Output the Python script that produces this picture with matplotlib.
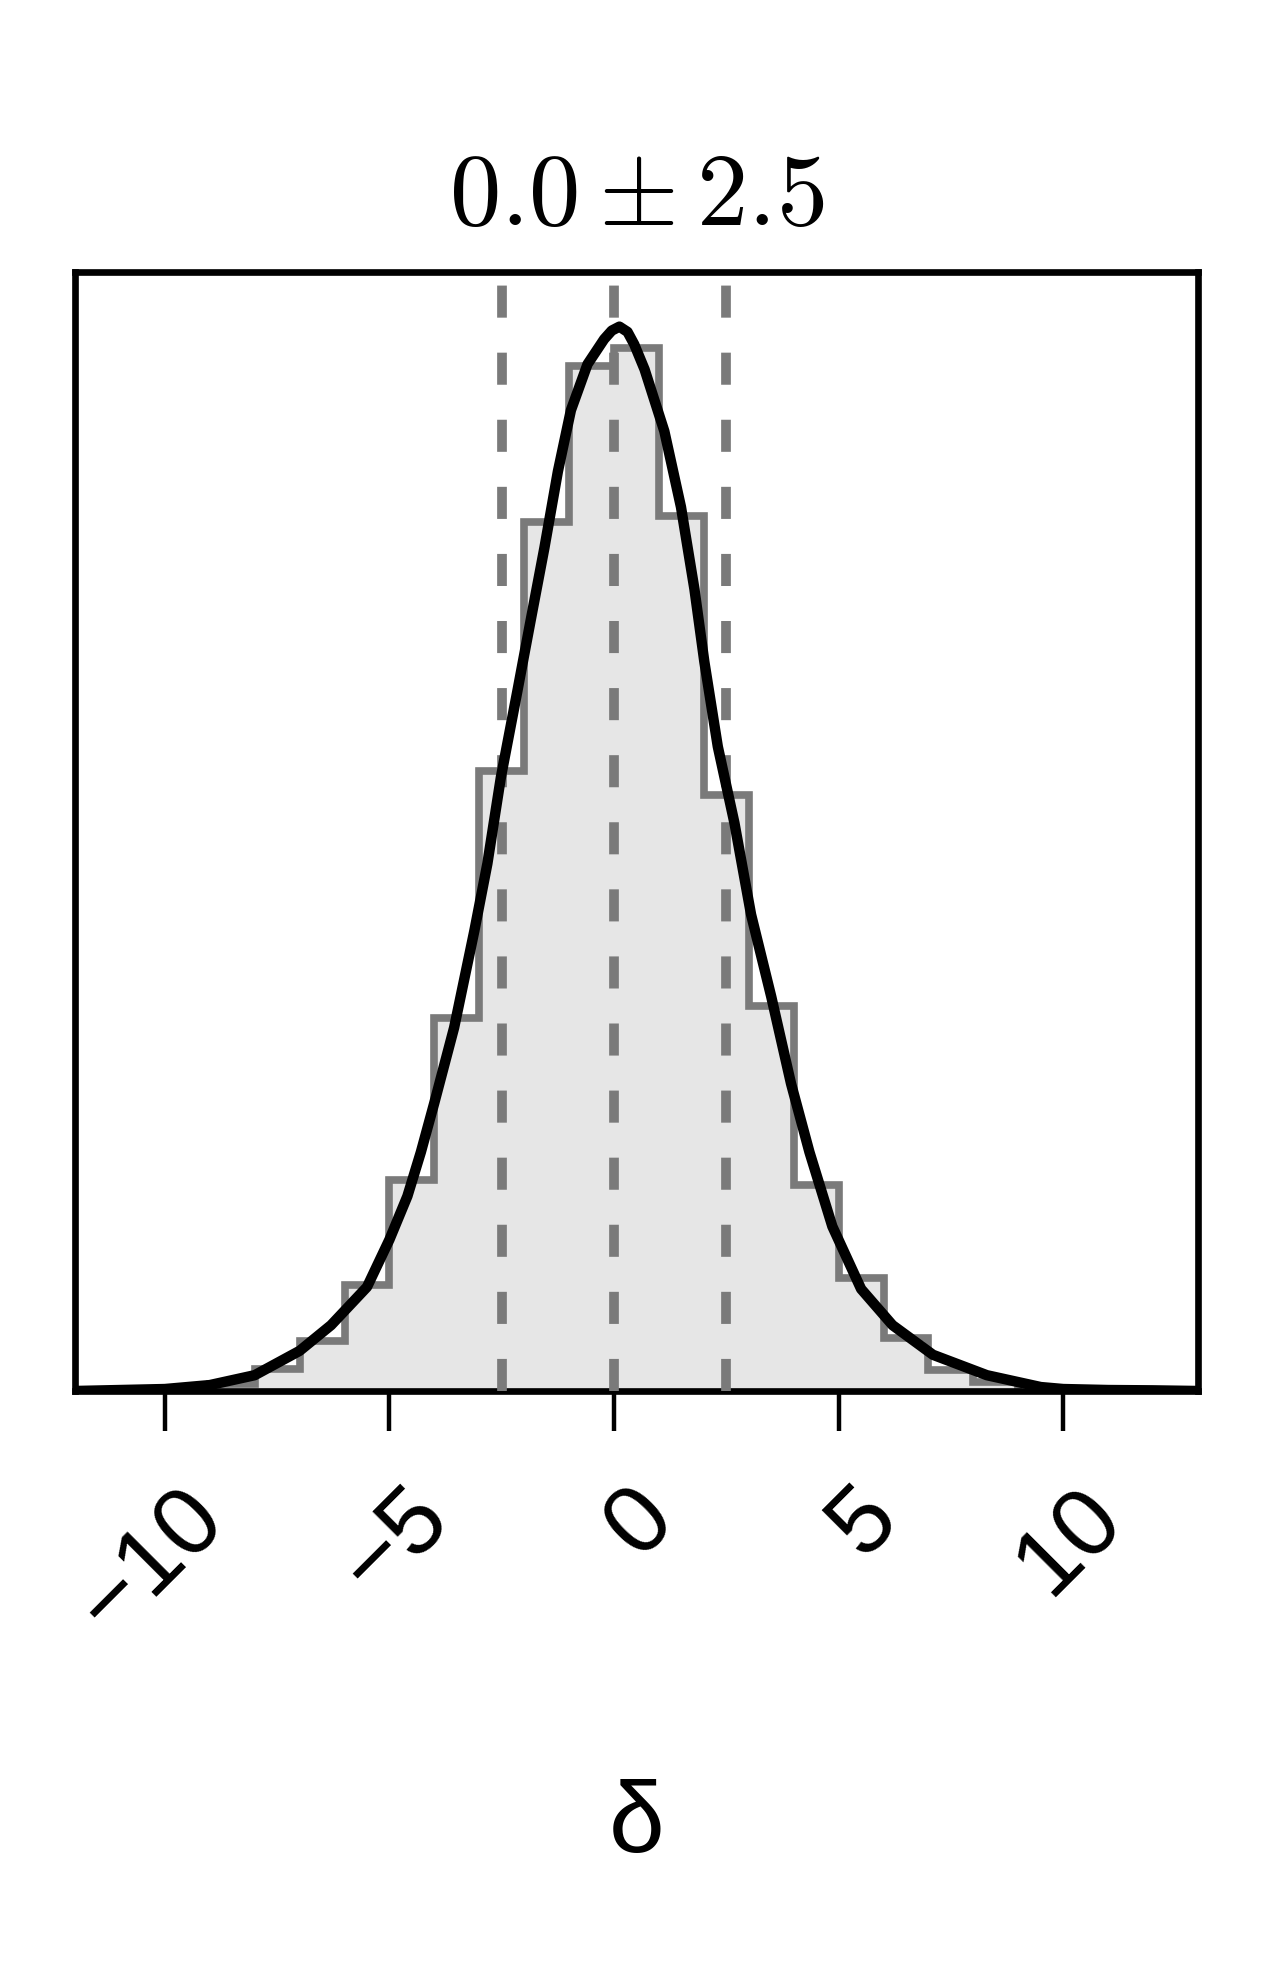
import matplotlib
matplotlib.use("Agg")
import matplotlib.pyplot as plt
from matplotlib.transforms import ScaledTranslation
import numpy as np

# ---- data ----
bin_edges = [-9, -8, -7, -6, -5, -4, -3, -2, -1, 0, 1, 2, 3, 4, 5, 6, 7, 8, 9]
hist_density = [0.0010, 0.0034, 0.0076, 0.0161, 0.0321, 0.0566, 0.0942, 0.1320, 0.1557,
                0.1584, 0.1329, 0.0906, 0.0585, 0.0313, 0.0171, 0.0080, 0.0032, 0.0013]

curve_x = [-12, -11, -10, -9, -8, -7, -6.3, -5.5, -5.0, -4.6, -4.3, -4.0, -3.56, -3.11,
           -2.82, -2.52, -2.15, -1.85, -1.55, -1.25, -0.96, -0.59, -0.22, -0.05, 0.12,
           0.3, 0.45, 0.68, 1.12, 1.49, 1.79, 2.01, 2.31, 2.68, 3.05, 3.5, 3.94, 4.35,
           4.86, 5.5, 6.2, 7.1, 8.3, 9.5, 10, 11, 12, 13]
curve_y = [0.0, 0.00015, 0.0003, 0.0009, 0.0024, 0.0061, 0.0100, 0.0158, 0.0230, 0.0296,
           0.0363, 0.0438, 0.0552, 0.0699, 0.0801, 0.0932, 0.1064, 0.1173, 0.1281, 0.1397,
           0.1490, 0.1560, 0.1598, 0.1611, 0.1617, 0.1609, 0.1590, 0.1552, 0.1458, 0.1343,
           0.1218, 0.1108, 0.0979, 0.0863, 0.0724, 0.0599, 0.0467, 0.0363, 0.0250, 0.0155,
           0.0100, 0.0055, 0.0024, 0.0006, 0.0003, 0.00015, 0.0001, 0.0]

quantiles = [-2.5, 0.0, 2.5]
tick_values = [-10, -5, 0, 5, 10]
tick_labels = ["\u221210", "\u22125", "0", "5", "10"]
title_text = r"$0.0 \pm 2.5$"
xlabel_text = "\u03b4"

# ---- figure ----
plt.rcParams["mathtext.fontset"] = "cm"
W, H = 1268, 1963
fig = plt.figure(figsize=(W / 100, H / 100), dpi=100)
left, right, top, bottom = 75, 1198, 272, 1391
ax = fig.add_axes([left / W, 1 - bottom / H, (right - left) / W, (bottom - top) / H])

ax.stairs(hist_density, bin_edges, fill=True, color="#e6e6e6", zorder=1)
ax.stairs(hist_density, bin_edges, fill=False, color="#7a7a7a", linewidth=5.5, zorder=2)

for q in quantiles:
    ax.axvline(q, color="#7a7a7a", linewidth=7.0, linestyle=(0, (3.3, 3.6)), zorder=3)

ax.plot(curve_x, curve_y, color="black", linewidth=7.5, zorder=4,
        solid_capstyle="round", solid_joinstyle="round")

ax.set_xlim(-12, 13)
ax.set_ylim(0, 0.170)
ax.set_yticks([])
ax.set_xticks(tick_values)
ax.set_xticklabels(tick_labels, fontsize=70, family=["Liberation Sans", "DejaVu Sans"],
                   rotation=45, ha="right", rotation_mode="anchor")
ax.tick_params(axis="x", direction="out", length=29, width=3.2, pad=22)
for lab in ax.get_xticklabels():
    lab.set_transform(lab.get_transform() + ScaledTranslation(0.13, -0.10, fig.dpi_scale_trans))
for s in ax.spines.values():
    s.set_linewidth(4.8)

ax.set_title(title_text, fontsize=74, pad=34)
ax.set_xlabel(xlabel_text, fontsize=72, family=["Liberation Sans", "DejaVu Sans"])
ax.xaxis.label.set_va("center")
ax.xaxis.set_label_coords(0.5, -(1826 - bottom) / (bottom - top))

fig.savefig("out.png", dpi=100)
